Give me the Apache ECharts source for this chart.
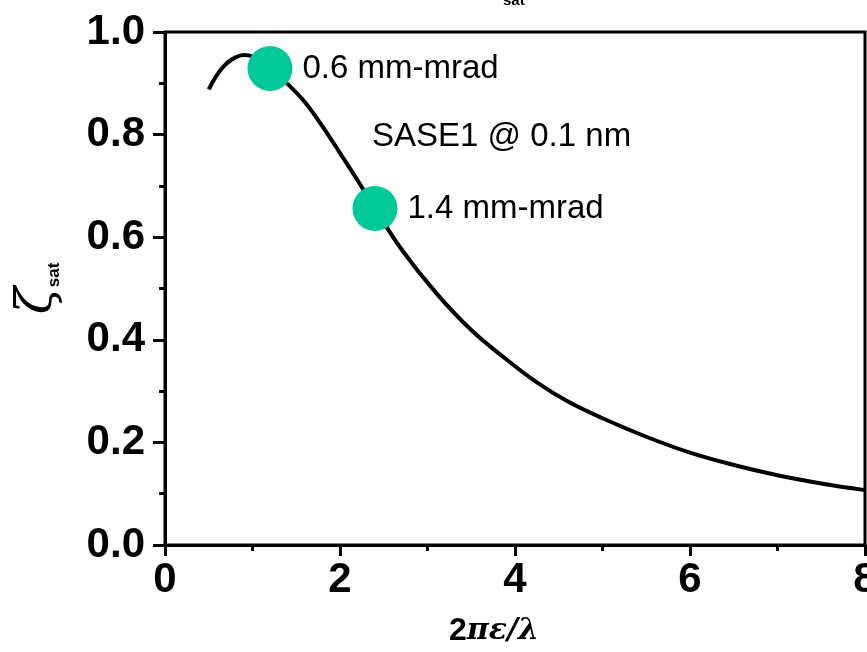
<!DOCTYPE html>
<html>
<head>
<meta charset="utf-8">
<script src="https://cdn.jsdelivr.net/npm/echarts@6/dist/echarts.min.js"></script>
<style>
  html, body { margin: 0; padding: 0; background: #fff; }
  #chart { width: 867px; height: 652px; }
</style>
</head>
<body>
<div id="chart"></div>
<script>
  // curve
  const xVals = [0.5, 0.6, 0.7, 0.8, 0.9, 1.0, 1.2, 1.4, 1.6, 1.8, 2.0, 2.2, 2.4, 2.7, 3.1, 3.5, 3.9, 4.25, 4.6, 5.0, 5.5, 6.0, 6.5, 7.0, 7.5, 8.0]
  const yVals = [0.888, 0.918, 0.938, 0.950, 0.955, 0.952, 0.929, 0.899, 0.863, 0.816, 0.764, 0.711, 0.656, 0.577, 0.491, 0.419, 0.362, 0.317, 0.280, 0.247, 0.211, 0.180, 0.156, 0.136, 0.120, 0.107]

  // green markers
  const markX = [1.2, 2.4]
  const markY = [0.929, 0.656]
  const markLabels = ['0.6 mm-mrad', '1.4 mm-mrad']

  const font = "'Liberation Sans', Arial, sans-serif"

  const myChart = echarts.init(document.getElementById('chart'))
  myChart.setOption({
    animation: false,
    grid: {
      left: 165,
      top: 32,
      right: 2,
      bottom: 107,
      outerBoundsMode: 'none', // keep the plot at the edge, "8" gets cut like the original
      show: true,
      borderColor: '#000',
      borderWidth: 3
    },
    xAxis: {
      type: 'value',
      min: 0,
      max: 8,
      interval: 2,
      name: '{n|2}{g|πε/λ}',
      nameLocation: 'middle',
      nameGap: 70,
      nameTextStyle: {
        padding: [0, 42, 0, 0],
        rich: {
          n: { fontSize: 32, fontWeight: 'bold', fontFamily: font, color: '#000' },
          g: { fontSize: 30, fontWeight: 'bold', fontStyle: 'italic', fontFamily: "'DejaVu Serif', serif", color: '#000' }
        }
      },
      splitLine: { show: false },
      axisLine: { lineStyle: { color: '#000', width: 3 } },
      axisTick: { length: 11, lineStyle: { color: '#000', width: 3 } },
      minorTick: { show: true, splitNumber: 2, length: 6, lineStyle: { color: '#000', width: 3 } },
      axisLabel: {
        margin: 14,
        color: '#000',
        fontSize: 42,
        fontWeight: 'bold',
        fontFamily: font
      }
    },
    yAxis: {
      type: 'value',
      min: 0,
      max: 1,
      interval: 0.2,
      name: '{z|ζ}{s|sat}',
      nameLocation: 'middle',
      nameGap: 102,
      nameTextStyle: {
        rich: {
          z: { fontSize: 50, fontStyle: 'italic', fontFamily: "'DejaVu Serif', serif", color: '#000' },
          s: { fontSize: 17, fontWeight: 'bold', fontFamily: font, color: '#000', verticalAlign: 'bottom' }
        }
      },
      splitLine: { show: false },
      axisLine: { lineStyle: { color: '#000', width: 3 } },
      axisTick: { length: 12, lineStyle: { color: '#000', width: 3 } },
      minorTick: { show: true, splitNumber: 2, length: 6, lineStyle: { color: '#000', width: 3 } },
      axisLabel: {
        margin: 20,
        color: '#000',
        fontSize: 42,
        fontWeight: 'bold',
        fontFamily: font,
        formatter: v => v.toFixed(1)
      }
    },
    series: [
      {
        type: 'line',
        smooth: 0.4,
        showSymbol: false,
        lineStyle: { color: '#000', width: 4 },
        data: xVals.map((x, i) => [x, yVals[i]])
      },
      {
        type: 'scatter',
        symbolSize: 45,
        z: 5,
        itemStyle: { color: '#00c897', opacity: 1 },
        label: {
          show: true,
          position: 'right',
          distance: 10,
          color: '#000',
          fontSize: 33,
          fontFamily: font,
          formatter: p => markLabels[p.dataIndex]
        },
        data: markX.map((x, i) => [x, markY[i]])
      }
    ],
    graphic: [
      {
        type: 'text',
        left: 372,
        top: 120,
        style: { text: 'SASE1 @ 0.1 nm', fontSize: 33, fontFamily: font, fill: '#000' }
      },
      {
        // title cut off at the top edge, only the subscript is left
        type: 'text',
        left: 503,
        top: -7,
        style: { text: 'sat', fontSize: 15, fontWeight: 'bold', fontFamily: font, fill: '#000' }
      }
    ]
  })
</script>
</body>
</html>
